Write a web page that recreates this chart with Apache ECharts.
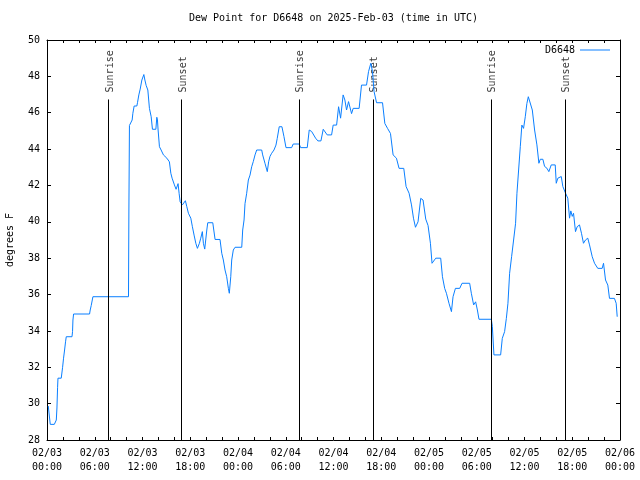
<!DOCTYPE html>
<html>
<head>
<meta charset="utf-8">
<script src="https://cdn.jsdelivr.net/npm/echarts@6/dist/echarts.min.js"></script>
<style>html,body{margin:0;padding:0;background:#fff}#c{width:640px;height:480px}</style>
</head>
<body>
<div id="c"></div>
<script>
// hours since 2025-02-03 00:00 UTC
var hours = [0.16,0.41,0.92,1.17,1.25,1.33,1.38,1.79,1.96,2.08,2.21,2.33,2.42,3.14,3.21,3.26,3.34,5.35,5.43,5.56,5.77,10.24,10.29,10.36,10.58,10.7,10.79,10.95,11.29,11.37,11.54,11.71,11.92,12.17,12.3,12.46,12.67,12.87,13.09,13.25,13.68,13.8,13.88,13.96,14.13,14.34,14.63,15.06,15.26,15.38,15.56,15.72,16.01,16.22,16.47,16.6,16.73,17.01,17.39,17.57,17.77,18.07,18.27,18.48,18.7,18.9,19.15,19.32,19.52,19.65,19.82,20.08,20.2,20.83,21.12,21.74,21.96,22.16,22.37,22.58,22.79,22.91,23.09,23.21,23.41,23.63,24.47,24.59,24.76,24.88,25.09,25.3,25.51,25.72,25.92,26.14,26.35,26.98,27.1,27.39,27.68,27.85,28.02,28.23,28.52,28.77,28.93,29.18,29.52,29.77,30.03,30.74,30.94,31.69,31.87,32.7,32.95,33.25,33.75,34.04,34.42,34.71,34.96,35.21,35.76,35.96,36.39,36.46,36.64,36.89,37.21,37.43,37.64,37.89,38.27,38.47,39.22,39.52,40.15,40.4,40.69,40.9,41.1,41.41,42.16,42.45,42.79,43.16,43.49,43.91,44.24,44.83,45.12,45.5,45.8,46.05,46.3,46.62,46.96,47.25,47.59,47.88,48.18,48.38,48.85,49.47,49.69,49.97,50.19,50.51,50.82,51.02,51.32,51.86,52.15,53.11,53.32,53.61,53.86,54.08,54.28,55.83,55.96,56.16,57.0,57.21,57.5,57.72,57.92,58.13,58.38,58.63,58.88,59.05,59.26,59.47,59.67,59.88,60.1,60.3,60.48,60.73,60.98,61.27,61.56,61.81,61.98,62.31,62.52,62.81,63.06,63.36,63.86,63.99,64.19,64.62,64.82,65.16,65.44,65.66,65.82,66.0,66.16,66.41,66.62,66.91,67.16,67.41,67.66,67.95,68.17,68.51,68.8,69.21,69.76,69.93,70.18,70.47,70.68,71.3,71.52,71.65];
var dewF = [29.87,28.86,28.86,29.1,29.76,30.9,31.4,31.4,32.0,32.5,32.95,33.4,33.68,33.68,33.96,34.6,34.93,34.93,35.15,35.4,35.88,35.88,40.65,45.3,45.3,45.6,45.97,46.37,46.37,46.55,46.98,47.3,47.8,48.1,47.8,47.5,47.25,46.24,45.78,45.09,45.09,45.75,45.6,45.05,44.13,43.95,43.68,43.5,43.4,43.3,42.67,42.4,42.03,41.79,42.1,41.57,41.1,40.93,41.16,40.83,40.47,40.2,39.73,39.27,38.82,38.54,38.82,39.1,39.46,38.82,38.5,39.55,39.95,39.95,39.03,39.03,38.27,37.9,37.35,36.98,36.34,36.07,36.98,37.9,38.45,38.6,38.6,39.55,40.1,41.0,41.57,42.3,42.57,43.03,43.31,43.68,43.95,43.95,43.68,43.22,42.76,43.3,43.6,43.77,43.95,44.22,44.59,45.23,45.23,44.7,44.08,44.08,44.28,44.28,44.08,44.08,45.05,44.97,44.6,44.45,44.45,45.09,45.05,44.78,44.78,45.32,45.32,45.6,46.33,45.7,46.98,46.7,46.15,46.61,45.95,46.24,46.24,47.52,47.52,48.26,48.72,48.26,47.16,46.55,46.55,45.41,45.14,44.86,43.68,43.5,42.94,42.94,41.94,41.57,40.93,40.2,39.7,40.0,41.29,41.2,40.15,39.8,38.82,37.72,38.0,38.0,36.98,36.34,36.07,35.52,35.06,35.88,36.34,36.34,36.62,36.62,36.07,35.43,35.6,35.15,34.64,34.64,34.24,32.68,32.68,33.59,33.96,34.69,35.52,37.17,38.08,39.0,39.92,41.57,42.85,44.13,45.32,45.14,45.78,46.51,46.88,46.8,46.15,45.05,44.23,43.22,43.44,43.44,43.05,42.95,42.76,43.13,43.13,42.12,42.4,42.49,41.94,41.57,41.3,40.2,40.6,40.3,40.47,39.46,39.73,39.83,39.37,38.82,39.0,39.1,38.73,38.08,37.72,37.44,37.44,37.72,36.8,36.52,35.79,35.79,35.52,34.78];
var sunHours = [7.73, 16.9, 31.7, 41.0, 55.8, 65.07];
var sunLabels = ['Sunrise', 'Sunset', 'Sunrise', 'Sunset', 'Sunrise', 'Sunset'];
var yTicks = [28, 30, 32, 34, 36, 38, 40, 42, 44, 46, 48, 50];

var FONT = 'DejaVu Sans Mono';
var lineData = hours.map(function (h, i) { return [h, dewF[i]]; });
var sunTop = 46.73;
var sunPoints = sunHours.map(function (h, i) { return [h, sunTop, sunLabels[i]]; });
var sunLines = sunHours.map(function (h) { return [{ coord: [h, sunTop] }, { coord: [h, 28] }]; });

function xLabel(v) {
  if (v % 6 !== 0) return '';
  var day = 3 + Math.floor(v / 24);
  var hh = v % 24;
  return '02/0' + day + '\n' + (hh < 10 ? '0' : '') + hh + ':00';
}

var chart = echarts.init(document.getElementById('c'), null, { renderer: 'canvas' });
var axisCommonX = {
  type: 'value', min: 0, max: 72, interval: 2,
  axisLine: { show: true, onZero: false, lineStyle: { color: '#000', width: 1 } },
  axisTick: { show: true, inside: true, length: 3, lineStyle: { color: '#000' } },
  splitLine: { show: false }
};
var axisCommonY = {
  type: 'value', min: 28, max: 50, interval: 2,
  axisLine: { show: true, onZero: false, lineStyle: { color: '#000', width: 1 } },
  axisTick: { show: true, inside: true, length: 4, lineStyle: { color: '#000' } },
  splitLine: { show: false }
};
chart.setOption({
  animation: false,
  backgroundColor: '#fff',
  title: {
    text: 'Dew Point for D6648 on 2025-Feb-03 (time in UTC)',
    left: 189, top: 12, padding: 0,
    textStyle: { fontFamily: FONT, fontSize: 10, fontWeight: 'normal', color: '#000', lineHeight: 12 }
  },
  legend: {
    data: [{ name: 'D6648', icon: 'rect' }], right: 30, top: 45, padding: 0, align: 'right',
    itemWidth: 30, itemHeight: 1,
    textStyle: { fontFamily: FONT, fontSize: 10, color: '#000' }
  },
  grid: { left: 47, right: 20, top: 40, bottom: 40, containLabel: false, outerBoundsMode: 'none' },
  xAxis: [
    Object.assign({}, axisCommonX, {
      position: 'bottom',
      axisLabel: { show: true, formatter: xLabel, margin: 6, fontFamily: FONT, fontSize: 10, color: '#000', lineHeight: 14, showMinLabel: true, showMaxLabel: true }
    }),
    Object.assign({}, axisCommonX, { position: 'top', axisLabel: { show: false } })
  ],
  yAxis: [
    Object.assign({}, axisCommonY, {
      position: 'left',
      name: 'degrees F', nameLocation: 'middle', nameRotate: 90, nameGap: 32,
      nameTextStyle: { fontFamily: FONT, fontSize: 10, color: '#000' },
      axisLabel: { show: true, margin: 7, fontFamily: FONT, fontSize: 10, color: '#000',
        formatter: function (v) { return yTicks.indexOf(v) >= 0 ? String(v) : ''; } }
    }),
    Object.assign({}, axisCommonY, { position: 'right', axisLabel: { show: false } })
  ],
  series: [
    {
      name: 'D6648', type: 'line', data: lineData, symbol: 'none', showSymbol: false,
      lineStyle: { color: '#0a7fff', width: 1 }, itemStyle: { color: '#0a7fff' },
      xAxisIndex: 0, yAxisIndex: 0, z: 3
    },
    {
      name: 'sun', type: 'scatter', data: sunPoints, symbolSize: 1,
      itemStyle: { color: 'rgba(0,0,0,0)' }, silent: true, z: 2,
      label: {
        show: true, position: 'inside', align: 'left', verticalAlign: 'middle', rotate: 90,
        offset: [7, 1.5], fontFamily: FONT, fontSize: 10, color: '#000',
        formatter: function (p) { return p.data[2]; }
      },
      markLine: {
        silent: true, symbol: ['none', 'none'], animation: false,
        lineStyle: { color: '#000', width: 1, type: 'solid' },
        label: { show: false },
        data: sunLines
      }
    }
  ]
});
</script>
</body>
</html>
